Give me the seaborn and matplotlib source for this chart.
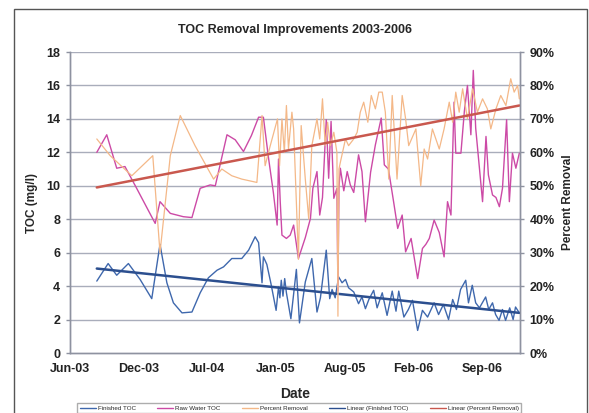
"""
TOC removal chart, 2003-2006.

Finished and raw water TOC on the left axis (mg/l),
percent removal on the right axis, with linear trend lines.
"""

import pandas as pd
import matplotlib
matplotlib.use("Agg")
import matplotlib.pyplot as plt
from matplotlib.patches import Rectangle
from matplotlib.ticker import FuncFormatter
import seaborn as sns

START = pd.Timestamp("2003-06-01")

# days since START
finished_days = [78, 111, 136, 170, 204, 238, 262, 282, 301, 326, 355, 379, 403,
                 428, 447, 471, 500, 520, 539, 549, 559, 563, 573, 585, 600, 607,
                 611, 615, 620, 625, 630, 643, 659, 668, 685, 704, 719, 729, 746,
                 756, 763, 772, 782, 792, 802, 811, 826, 840, 850, 860, 870, 884,
                 894, 909, 923, 938, 949, 957, 972, 985, 997, 1012, 1026, 1041,
                 1060, 1073, 1087, 1102, 1114, 1125, 1137, 1152, 1160, 1171, 1181,
                 1192, 1210, 1219, 1230, 1239, 1249, 1259, 1268, 1280, 1290, 1297,
                 1308]
finished_toc = [4.3, 5.35, 4.65, 5.35, 4.4, 3.25, 6.5, 4.2, 3.0, 2.4, 2.45, 3.6, 4.5,
                4.95, 5.15, 5.65, 5.65, 6.15, 6.95, 6.6, 4.2, 5.75, 5.3, 4.15, 2.55,
                3.95, 3.3, 4.35, 3.4, 4.45, 3.6, 2.05, 5.0, 1.8, 4.25, 5.65, 2.45,
                3.3, 6.15, 3.25, 3.8, 3.3, 4.55, 4.2, 4.4, 3.9, 3.65, 2.95, 3.35,
                2.65, 3.2, 3.75, 2.7, 3.6, 2.25, 3.7, 2.5, 3.7, 2.15, 2.6, 3.15,
                1.35, 2.55, 2.15, 3.0, 2.3, 2.9, 2.0, 3.2, 2.6, 3.8, 4.35, 3.0,
                4.05, 3.0, 2.7, 3.35, 2.6, 3.0, 2.3, 1.95, 2.6, 1.95, 2.7, 2.0,
                2.75, 2.4]

raw_days = [78, 107, 136, 160, 194, 248, 262, 292, 330, 355, 379, 408, 423, 457,
            481, 505, 528, 549, 563, 578, 592, 603, 607, 612, 617, 630, 641, 651,
            665, 685, 700, 707, 719, 727, 735, 746, 753, 760, 768, 777, 780, 783,
            787, 797, 807, 816, 826, 840, 850, 860, 875, 889, 906, 915, 927, 942,
            954, 967, 977, 993, 1012, 1026, 1036, 1046, 1060, 1075, 1089, 1099,
            1109, 1118, 1123, 1138, 1148, 1157, 1167, 1174, 1181, 1201, 1211,
            1218, 1230, 1240, 1250, 1259, 1271, 1279, 1288, 1298, 1308]
raw_toc = [12.0, 13.05, 11.05, 11.15, 9.85, 7.75, 9.05, 8.35, 8.15, 8.1, 9.85,
           10.05, 10.0, 13.05, 12.75, 12.05, 13.0, 14.1, 14.1, 11.65, 9.6, 7.65,
           11.6, 9.05, 7.05, 6.85, 7.05, 7.65, 5.65, 6.9, 8.05, 9.85, 10.85, 8.25,
           9.3, 13.95, 10.45, 13.85, 9.25, 9.85, 3.7, 9.9, 11.05, 9.7, 10.85,
           10.05, 9.6, 11.85, 10.85, 7.85, 10.8, 12.45, 14.05, 11.25, 11.0, 9.05,
           7.45, 8.25, 6.05, 6.85, 4.45, 6.25, 6.5, 6.85, 7.95, 7.2, 5.75, 9.05,
           8.25, 15.0, 11.95, 11.95, 14.45, 16.0, 13.05, 16.9, 13.45, 9.05, 12.95,
           10.65, 9.45, 9.3, 8.75, 9.85, 13.95, 9.05, 11.95, 11.05, 11.95]

removal_days = [78, 117, 180, 241, 262, 292, 321, 364, 418, 442, 471, 500, 544,
                559, 568, 583, 604, 610, 617, 624, 630, 636, 646, 651, 659, 665,
                673, 685, 695, 704, 719, 727, 735, 743, 750, 758, 768, 777, 780,
                783, 787, 802, 811, 826, 836, 845, 855, 867, 877, 889, 899, 909,
                918, 928, 938, 952, 967, 977, 986, 1007, 1021, 1031, 1041, 1055,
                1065, 1075, 1089, 1104, 1114, 1123, 1133, 1143, 1157, 1172, 1186,
                1201, 1215, 1225, 1240, 1254, 1269, 1283, 1293, 1303, 1308]
percent_removal = [64, 59, 53, 59, 30, 59, 71, 62, 52, 55, 53, 52, 51, 71, 56, 62,
                   70, 56, 70, 60, 74, 61, 72, 67, 45, 28, 68, 52, 40, 62, 70, 64,
                   76, 62, 69, 62, 66, 60, 11, 55, 57, 64, 62, 64, 66, 72, 75, 69,
                   77, 73, 78, 78, 72, 52, 77, 52, 77, 70, 62, 67, 50, 61, 58, 67,
                   64, 61, 67, 75, 69, 78, 72, 79, 70, 79, 72, 76, 73, 67, 73, 77,
                   74, 82, 78, 80, 76]

# linear trend end points (Excel trendlines)
trend_days = [78, 1308]
finished_trend = [5.05, 2.4]     # mg/l
removal_trend = [49.5, 74.0]     # %

tick_days = [0, 200, 400, 600, 800, 1000, 1200]
tick_labels = ["Jun-03", "Dec-03", "Jul-04", "Jan-05", "Aug-05", "Feb-06", "Sep-06"]


def to_dates(days):
    return START + pd.to_timedelta(days, unit="D")


sns.set_style("white")
plt.rcParams["font.family"] = ["Liberation Sans", "DejaVu Sans"]

fig = plt.figure(figsize=(5.89, 4.13), dpi=100)
ax = fig.add_axes([70 / 589, 1 - 353 / 413, 450 / 589, 301 / 413])
ax2 = ax.twinx()

grid_color = "#a9adbb"
for y in range(2, 19, 2):
    ax.axhline(y, color=grid_color, lw=1.0, zorder=0)

sns.lineplot(x=to_dates(finished_days), y=finished_toc, ax=ax, color="#3f68ad",
             lw=1.0, estimator=None, label="Finished TOC", legend=False)
sns.lineplot(x=to_dates(raw_days), y=raw_toc, ax=ax, color="#cc4aa6",
             lw=1.0, estimator=None, label="Raw Water TOC", legend=False)
sns.lineplot(x=to_dates(trend_days), y=finished_trend, ax=ax, color="#2c4f8f",
             lw=1.8, estimator=None, label="Linear (Finished TOC)", legend=False,
             zorder=5)
sns.lineplot(x=to_dates(removal_days), y=percent_removal, ax=ax2, color="#f4b888",
             lw=0.9, estimator=None, label="Percent Removal", legend=False)
sns.lineplot(x=to_dates(trend_days), y=removal_trend, ax=ax2, color="#c9584e",
             lw=1.8, estimator=None, label="Linear (Percent Removal)", legend=False)

ax.set_xlim(START, START + pd.Timedelta(days=1310))
ax.set_ylim(0, 18)
ax2.set_ylim(0, 90)
ax.set_yticks(range(0, 19, 2))
ax2.set_yticks(range(0, 91, 10))
ax2.yaxis.set_major_formatter(FuncFormatter(lambda v, _: f"{v:.0f}%"))
ax.set_xticks(to_dates(tick_days))
ax.set_xticklabels(tick_labels)

for a in (ax, ax2):
    for s in a.spines.values():
        s.set_color("#8e92a0")
        s.set_linewidth(1.0)
    a.spines["top"].set_visible(False)
    a.tick_params(axis="both", direction="out", length=3, width=1,
                  color="#8e92a0", labelsize=9, labelcolor="#222222", pad=4)
for lab in ax.get_xticklabels() + ax.get_yticklabels() + ax2.get_yticklabels():
    lab.set_fontweight("bold")

ax.set_xlabel("Date", fontsize=10, fontweight="bold", labelpad=9)
ax.set_ylabel("TOC (mg/l)", fontsize=8.5, fontweight="bold", labelpad=6)
ax2.set_ylabel("Percent Removal", fontsize=8.5, fontweight="bold", labelpad=5)
ax.set_title("TOC Removal Improvements 2003-2006", fontsize=9, fontweight="bold",
             pad=14)

# legend order as in the workbook
order = ["Finished TOC", "Raw Water TOC", "Percent Removal",
         "Linear (Finished TOC)", "Linear (Percent Removal)"]
lines = {ln.get_label(): ln for ln in ax.get_lines() + ax2.get_lines()}
handles = [lines[name] for name in order]
leg = fig.legend(handles=handles, labels=order, loc="upper center",
                 bbox_to_anchor=(0.508, 1 - 403 / 413), ncol=5, fontsize=4.5,
                 frameon=True, fancybox=False, edgecolor="#999999",
                 handlelength=2.6, handletextpad=0.3, columnspacing=3.4,
                 borderpad=0.4, borderaxespad=0)
for h in leg.get_lines():
    h.set_linewidth(1.0)

fig.patches.append(Rectangle((14 / 589, -0.1), 573 / 589, 1.1 - 9 / 413,
                             transform=fig.transFigure, fill=False,
                             edgecolor="#555555", lw=1.0))

fig.savefig("out.png", dpi=100, facecolor="white")
